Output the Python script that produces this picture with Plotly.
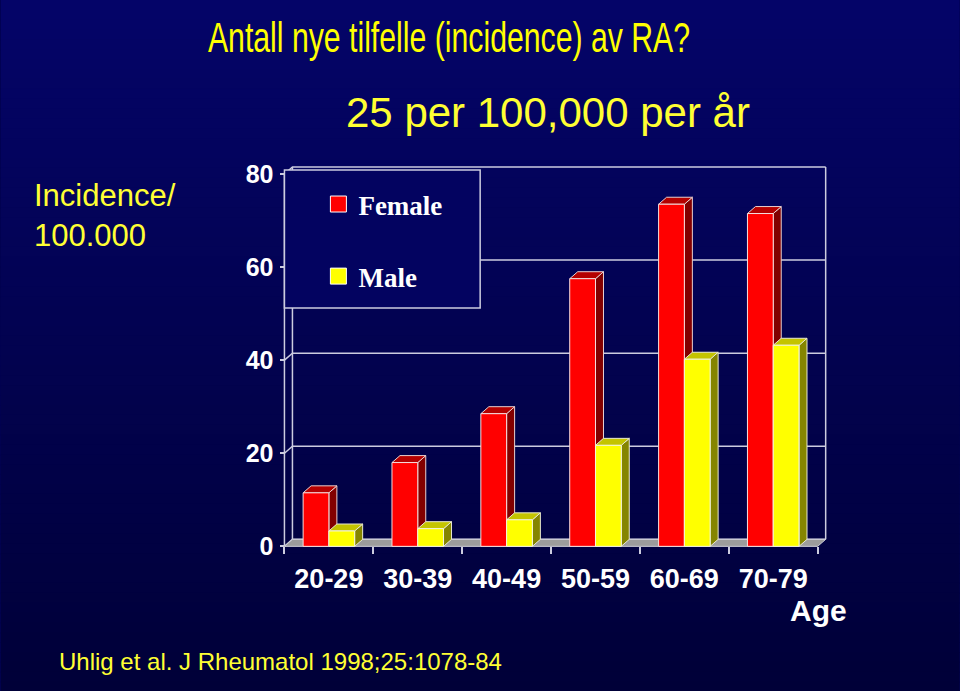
import plotly.graph_objects as go

# ---------------- data ----------------
age_groups = ["20-29", "30-39", "40-49", "50-59", "60-69", "70-79"]
female = [11.5, 18.0, 28.5, 57.5, 73.5, 71.5]
male = [3.3, 3.8, 5.7, 21.7, 40.2, 43.2]
y_ticks = [0, 20, 40, 60, 80]

# ---------------- geometry (styling) ----------------
BW = 0.29      # bar width in category units
DX = 0.09      # 3D depth offset (x, category units)
DY = 1.5       # 3D depth offset (y, value units)
XMIN, XMAX = -0.55, 5.65
YMIN, YMAX = -1.0, 83.0
L, Wp = 279.55, 551.8
T, Hp = 160.05, 390.6
FIG_W, FIG_H = 960, 691

def xp(px):
    return (px - L) / Wp

def yp(py):
    return (T + Hp - py) / Hp

LINE = "#ccccdf"
SANS = "Liberation Sans, Arial, Helvetica, sans-serif"

def faces(values, offset):
    fx, fy, sx, sy, tx, ty = [], [], [], [], [], []
    for i, v in enumerate(values):
        x0 = i + offset
        x1 = x0 + BW
        fx += [x0, x1, x1, x0, x0, None]
        fy += [0, 0, v, v, 0, None]
        sx += [x1, x1 + DX, x1 + DX, x1, x1, None]
        sy += [0, DY, v + DY, v, 0, None]
        tx += [x0, x0 + DX, x1 + DX, x1, x0, None]
        ty += [v, v + DY, v + DY, v, v, None]
    return (fx, fy), (sx, sy), (tx, ty)

def poly(xy, fill, line_color, width=1):
    return go.Scatter(x=xy[0], y=xy[1], mode="lines", fill="toself",
                      fillcolor=fill, line=dict(color=line_color, width=width),
                      hoverinfo="skip", showlegend=False)

fig = go.Figure()

# back wall frame + gridlines
n = len(age_groups)
left, right = -0.5, n - 0.5
gx, gy = [], []
for v in y_ticks:
    gx += [left, left + DX, right + DX, None]
    gy += [v, v + DY, v + DY, None]
gx += [left + DX, left + DX, None, right + DX, right + DX, None, left, left, None]
gy += [DY, y_ticks[-1] + DY, None, DY, y_ticks[-1] + DY, None, 0, y_ticks[-1], None]
fig.add_trace(go.Scatter(x=gx, y=gy, mode="lines", line=dict(color=LINE, width=1.5),
                         hoverinfo="skip", showlegend=False))

# floor
fig.add_trace(poly(([left, right, right + DX, left + DX, left],
                    [0, 0, DY, DY, 0]), "#9c9c9c", "#d0d0d8", 1))

# bars (3D look)
f_front, f_side, f_top = faces(female, -BW)
m_front, m_side, m_top = faces(male, 0.0)
fig.add_trace(poly(f_side, "#820000", "#e8d0d0"))
fig.add_trace(poly(f_top, "#b40000", "#e8d0d0"))
fig.add_trace(poly(f_front, "#ff0000", "#f4dede"))
fig.add_trace(poly(m_side, "#858500", "#e8e8d0"))
fig.add_trace(poly(m_top, "#c4c400", "#e8e8d0"))
fig.add_trace(poly(m_front, "#ffff00", "#f4f4de"))

# legend entries
fig.add_trace(go.Scatter(x=[None], y=[None], mode="markers", name="Female",
                         legendgroup="f",
                         marker=dict(symbol="square", size=16, color="#ff0000",
                                     line=dict(color="#ffffff", width=1))))
fig.add_trace(go.Scatter(x=[None], y=[None], mode="markers", name="Male",
                         legendgroup="m",
                         marker=dict(symbol="square", size=16, color="#ffff00",
                                     line=dict(color="#ffffff", width=1))))

# background gradient strips
shapes = []
N = 70
top_c = (4, 4, 104)
bot_c = (0, 0, 56)
for k in range(N):
    t = k / (N - 1)
    c = tuple(round(top_c[j] + (bot_c[j] - top_c[j]) * t) for j in range(3))
    py0 = k * FIG_H / N
    py1 = (k + 1) * FIG_H / N + 1
    shapes.append(dict(type="rect", xref="paper", yref="paper", layer="below",
                       x0=xp(0), x1=xp(FIG_W), y0=yp(py1), y1=yp(py0),
                       fillcolor="rgb(%d,%d,%d)" % c, line=dict(width=0)))
# legend box
shapes.append(dict(type="rect", xref="paper", yref="paper", layer="above",
                   x0=xp(284), x1=xp(480), y0=yp(308), y1=yp(170),
                   fillcolor="rgb(3,3,96)", line=dict(color=LINE, width=1.5)))

annotations = [
    dict(text="Antall nye tilfelle (incidence) av RA?", x=xp(449), y=yp(38),
         font=dict(family=SANS, size=42, color="#ffff00")),
    dict(text="25 per 100,000 per år", x=xp(548), y=yp(112.5),
         font=dict(family=SANS, size=42, color="#ffff33")),
    dict(text="Incidence/<br>100.000", x=xp(31), y=yp(215), xanchor="left", align="left",
         font=dict(family=SANS, size=31, color="#ffff33")),
    dict(text="Uhlig et al. J Rheumatol 1998;25:1078-84", x=xp(56), y=yp(661.5), xanchor="left",
         font=dict(family=SANS, size=24, color="#ffff33")),
    dict(text="Age", x=xp(819), y=yp(610),
         font=dict(family=SANS, size=30, color="#ffffff", weight="bold")),
]
for a in annotations:
    a.setdefault("xanchor", "center")
    a.update(xref="paper", yref="paper", yanchor="middle", showarrow=False)

fig.update_layout(
    width=FIG_W, height=FIG_H,
    margin=dict(l=L, r=FIG_W - L - Wp, t=T, b=FIG_H - T - Hp, pad=0),
    paper_bgcolor="rgb(2,2,80)",
    plot_bgcolor="rgba(0,0,0,0)",
    shapes=shapes,
    annotations=annotations,
    showlegend=True,
    hovermode=False,
    legend=dict(x=xp(318), y=yp(180), xanchor="left", yanchor="top",
                bgcolor="rgba(0,0,0,0)", borderwidth=0,
                traceorder="grouped", tracegroupgap=34,
                font=dict(family="Liberation Serif, Times New Roman, serif",
                          size=27, color="#ffffff", weight="bold")),
    xaxis=dict(range=[XMIN, XMAX], tickvals=list(range(n)), ticktext=age_groups,
               showgrid=False, zeroline=False, showline=False, ticks="",
               anchor="free", position=(0 - YMIN) / (YMAX - YMIN),
               ticklabelstandoff=14, fixedrange=True,
               tickfont=dict(family=SANS, size=27, color="#ffffff", weight="bold"),
               minor=dict(tickvals=[i - 0.5 for i in range(n + 1)], ticks="outside",
                          ticklen=7, tickwidth=1.5, tickcolor=LINE, showgrid=False)),
    yaxis=dict(range=[YMIN, YMAX], tickvals=y_ticks, showgrid=False, zeroline=False,
               showline=False, ticks="outside", ticklen=4, tickwidth=1.5, tickcolor=LINE,
               anchor="free", position=(left - XMIN) / (XMAX - XMIN),
               ticklabelstandoff=2, fixedrange=True,
               tickfont=dict(family=SANS, size=25, color="#ffffff", weight="bold")),
)

post = """
document.body.style.margin = '0';
document.body.style.overflow = 'hidden';
var t = document.querySelectorAll('.annotation-text')[0];
if (t) {
  t.style.transformBox = 'fill-box';
  t.style.transformOrigin = 'center';
  t.style.transform = 'scaleX(0.72)';
}
"""

fig.write_html("out.html", post_script=post, config={"displayModeBar": False})
